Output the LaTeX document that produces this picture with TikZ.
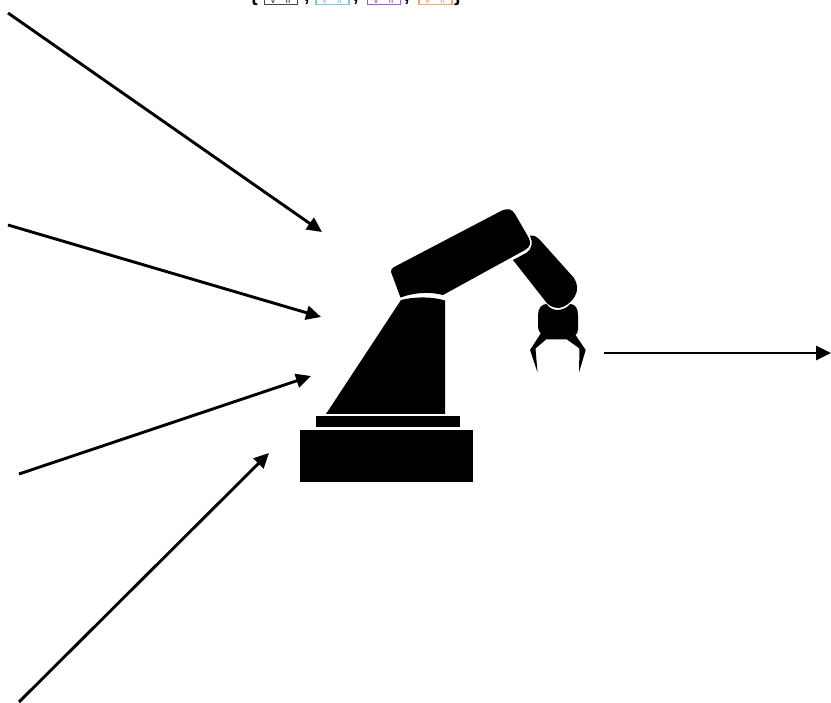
\documentclass[tikz,border=0pt]{standalone}
\usepackage{fontspec}
\setmainfont{Liberation Sans}
\usetikzlibrary{arrows.meta}
\definecolor{bx}{HTML}{444444}
\definecolor{bb}{HTML}{7FC4EE}
\definecolor{bp}{HTML}{A855D8}
\definecolor{bo}{HTML}{EDA868}
\tikzset{
  inlink/.style={line width=2.9pt,-{Triangle[length=15pt,width=14pt]}},
  robotpart/.style={fill=black,draw=none},
  slotbox/.style={line width=1.4pt,minimum width=33pt,minimum height=18pt,inner sep=0pt,anchor=south},
  slottext/.style={font=\fontsize{11}{11}\selectfont,inner sep=0pt,anchor=base},
  sep/.style={font=\bfseries\fontsize{20}{20}\selectfont,inner sep=0pt,anchor=base}
}
\begin{document}
\begin{tikzpicture}[x=1pt,y=-1pt]
\useasboundingbox (0,0) rectangle (831,703);
\fill[white] (0,0) rectangle (831,703);
% clipped formula at the top
\begin{scope}
\clip (0,0) rectangle (831,703);
\node[sep] (lb) at (254,2) {\{};
\node[slotbox,draw=bx] (s1) at (281,5.5) {};
\node[sep] (c1) at (307,1.5) {,};
\node[slotbox,draw=bb] (s2) at (332.5,5.5) {};
\node[sep] (c2) at (356,1.5) {,};
\node[slotbox,draw=bp] (s3) at (384,5.5) {};
\node[sep] (c3) at (407,1.5) {,};
\node[slotbox,draw=bo] (s4) at (435.5,5.5) {};
\node[sep] (rb) at (458,2) {\}};
\foreach \n/\c/\x in {a/bx/281,b/bb/332.5,c/bp/384,d/bo/435.5}{
  \node[slottext,text=\c] (v\n) at (\x-8,3.5) {v};
  \node[slottext,text=\c] (i\n) at (\x+7,3.5) {ii};
}
\end{scope}
% free connector ends
\coordinate (a1) at (8,13);    \coordinate (a2) at (322,232);
\coordinate (b1) at (8,225);   \coordinate (b2) at (321,317);
\coordinate (c1e) at (19,474); \coordinate (c2e) at (311,376);
\coordinate (d1) at (19,702);  \coordinate (d2) at (269,453);
\coordinate (e1) at (604,353); \coordinate (e2) at (831,353);
\draw[inlink] (a1) -- (a2);
\draw[inlink] (b1) -- (b2);
\draw[inlink] (c1e) -- (c2e);
\draw[inlink] (d1) -- (d2);
\draw[inlink] (e1) -- (e2);
% robot
\fill[robotpart] (300.3,430.3) rectangle (473.3,481.7);
\fill[robotpart] (315.7,416.3) rectangle (460,427.3);
\fill[robotpart] (326,414) -- (445,414) -- (445,300.5)
  .. controls (432,296.5) and (415,296.5) .. (401,300) -- cycle;
% upper arm
\fill[robotpart] (400.5,297.5) -- (392.5,276)
  .. controls (389.5,270) and (391,268.5) .. (397,265.5)
  -- (502,210.5)
  .. controls (508,208) and (512,209) .. (515,214)
  -- (528,236.5)
  .. controls (531.5,243) and (530.5,247) .. (525,250)
  -- (443,295)
  .. controls (430,291.5) and (414,292.5) .. (400.5,297.5) -- cycle;
% forearm
\fill[robotpart] (530,235.5)
  .. controls (534,235) and (537,237) .. (540,240)
  -- (574,278)
  .. controls (578,284) and (578,291) .. (575,296)
  .. controls (571,303) and (564,307.5) .. (559,308)
  .. controls (554,308) and (549,306) .. (546,302)
  -- (513,260)
  -- (527,252.5)
  .. controls (532,249) and (533,242) .. (530,235.5) -- cycle;
% gripper
\fill[robotpart] (546.5,304)
  .. controls (549,308) and (554,310) .. (557,310)
  .. controls (562,310) and (567,308) .. (570,304)
  .. controls (575,304) and (578,308) .. (578,315)
  -- (578,329)
  .. controls (578,332) and (577,334) .. (575.5,335)
  -- (585.7,350) -- (579,372.5) -- (579.5,348.5)
  -- (567,339.5) -- (546,339.5) -- (535.5,348.5)
  -- (537.5,372.5) -- (530,350) -- (540.7,333.5)
  .. controls (538.5,331) and (538,329) .. (538,326)
  -- (538,315)
  .. controls (538,308) and (542,304) .. (546.5,304) -- cycle;
\end{tikzpicture}
\end{document}
